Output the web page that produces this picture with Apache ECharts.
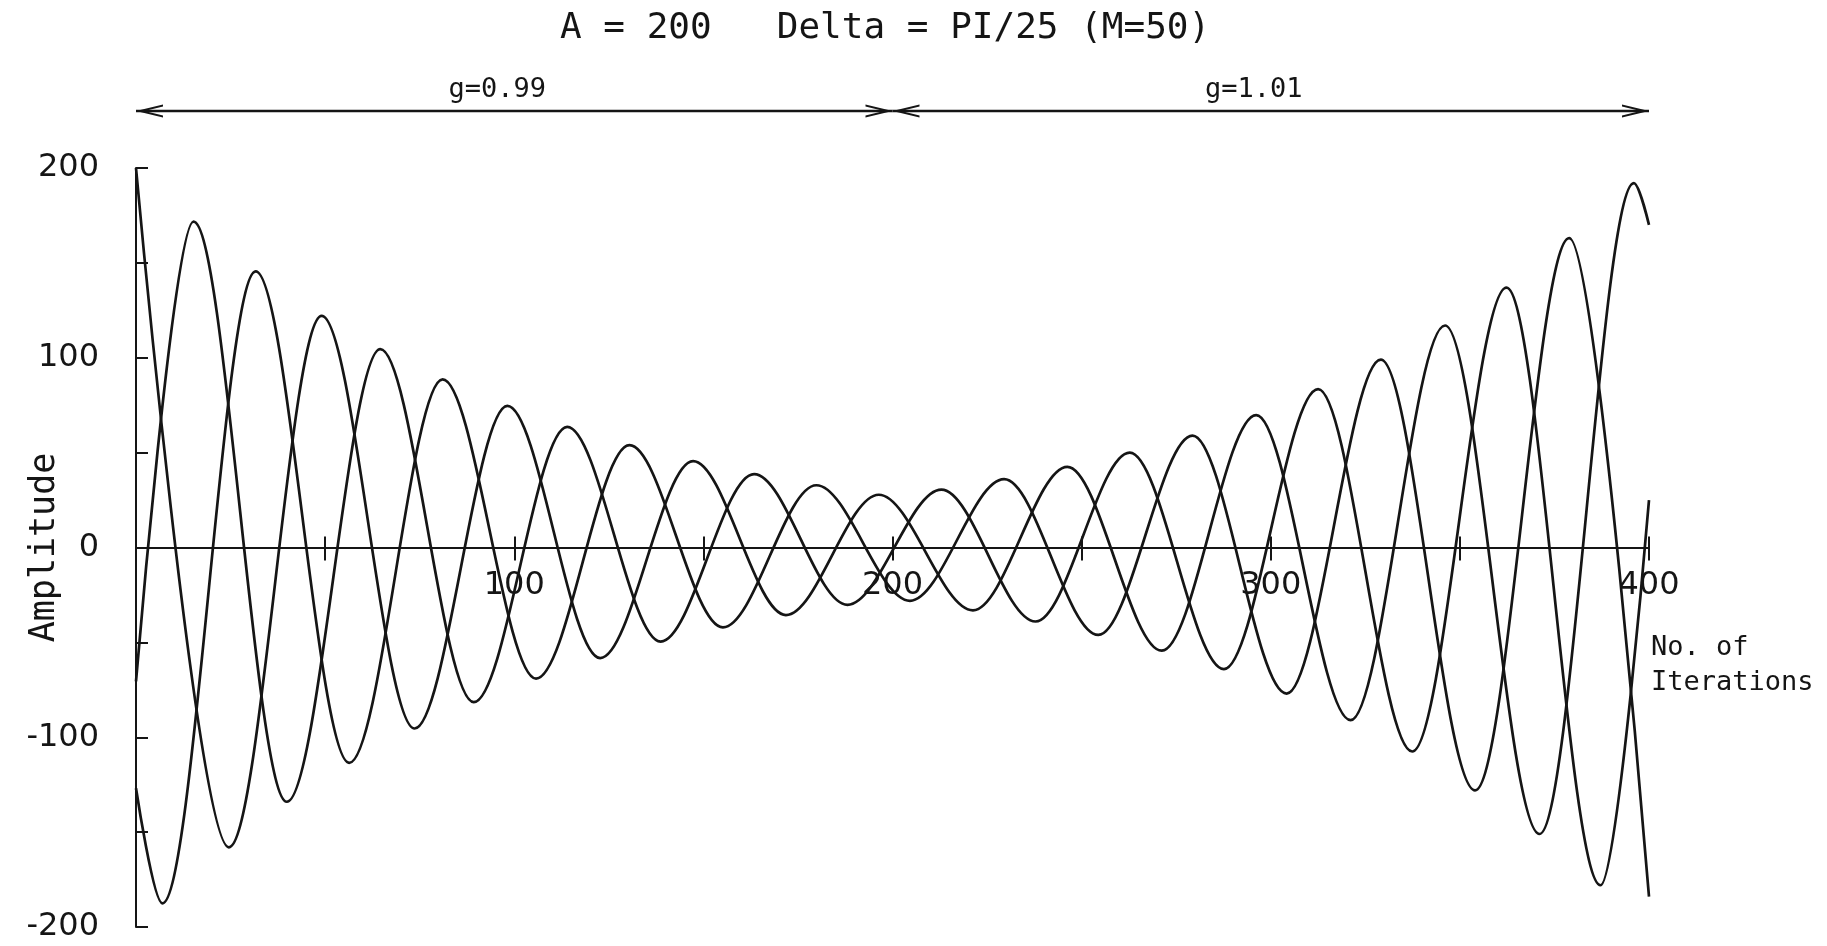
<!DOCTYPE html>
<html><head><meta charset="utf-8">
<script src="https://cdn.jsdelivr.net/npm/echarts/dist/echarts.min.js"></script>
<style>html,body{margin:0;padding:0;background:#fff}#c{width:1827px;height:946px}</style>
</head><body><div id="c"></div>
<script>
// ---- data ----
const titleText = 'A = 200   Delta = PI/25 (M=50)';
const xAxisName = 'No. of\nIterations';
const yAxisName = 'Amplitude';
const xRange = [0, 400];
const yRange = [-200, 200];
const tickStep = 50;
const labelStep = 100;
const arrowSpans = [[0, 200, 'g=0.99'], [200, 400, 'g=1.01']];

// turning points (peaks / troughs) of each curve, plus its two end points
const curveA = [
[0,200],[24.55,-158],[49.09,122.1],[73.64,-95.4],[98.18,74.6],[122.73,-58.3],[147.28,45.5],[171.82,-35.6],[196.37,27.8],
[221.27,-33.1],[246.23,42.5],[271.19,-54.4],[296.16,69.8],[321.12,-91],[346.08,117],[371.04,-151],[396.01,192],[400,170]
];
const curveB = [
[0,-70.5],[15.19,171.7],[39.89,-134.0],[64.59,104.5],[89.3,-81.5],[114,63.6],[138.7,-49.6],[163.41,38.7],[188.11,-30.2],
[212.92,30.5],[237.82,-39.0],[262.72,50.0],[287.62,-64.1],[312.52,83.5],[337.42,-107.5],[362.32,137],[387.22,-178],[400,25]
];
const curveC = [
[0,-126.9],[6.95,-187.5],[31.65,145.5],[56.36,-113.5],[81.06,88.6],[105.76,-69.1],[130.47,53.9],[155.17,-42.1],[179.87,32.8],
[204.61,-28.1],[229.51,36.0],[254.41,-46.1],[279.31,59.0],[304.21,-77],[329.11,99],[354.01,-128],[378.91,163],[400,-184]
];

// ---- styling ----
const INK = '#151515';
const MONO = 'DejaVu Sans Mono';
const SANS = 'DejaVu Sans';
const chevron = 'path://M5,0 L5,0 Z M0,40 L5,20 L10,40 L8.4,40 L5,26.4 L1.6,40 Z';
const W = 1827, H = 946;
const gridBox = {left: 136, right: 178, top: 168, bottom: 19};
const plotH = H - gridBox.top - gridBox.bottom;
const zeroFromBottom = plotH * (0 - yRange[0]) / (yRange[1] - yRange[0]);
const zeroFromTop = plotH - zeroFromBottom;

const chart = echarts.init(document.getElementById('c'), null, {renderer: 'canvas'});

function curveSeries(data) {
  return {
    type: 'line', xAxisIndex: 0, yAxisIndex: 0, data: data,
    smooth: 1 / 3, smoothMonotone: 'x', showSymbol: false, symbol: 'none', clip: false,
    lineStyle: {color: INK, width: 2.7}, silent: true, z: 3
  };
}

const option = {
  backgroundColor: '#ffffff',
  animation: false,
  title: {
    text: titleText, left: 555, top: 6,
    textStyle: {fontFamily: MONO, fontSize: 36, fontWeight: 'normal', color: INK}
  },
  grid: [
    Object.assign({containLabel: false, outerBoundsMode: 'none'}, gridBox),
    {left: gridBox.left, right: gridBox.right, top: 61, height: 100, containLabel: false, outerBoundsMode: 'none'}
  ],
  xAxis: [
    {
      type: 'value', gridIndex: 0, min: xRange[0], max: xRange[1], interval: tickStep,
      position: 'bottom', offset: -zeroFromBottom,
      axisLine: {show: true, onZero: false, lineStyle: {color: INK, width: 2}},
      axisTick: {show: true, inside: false, length: 13, lineStyle: {color: INK, width: 2}},
      axisLabel: {
        show: true, margin: 22, fontSize: 32, fontFamily: SANS, color: INK,
        formatter: v => (v > 0 && v % labelStep === 0) ? String(v) : ''
      },
      splitLine: {show: false},
      name: xAxisName, nameLocation: 'end', nameGap: 2, nameMoveOverlap: false,
      nameTextStyle: {fontFamily: MONO, fontSize: 27, color: INK, align: 'left', verticalAlign: 'top', lineHeight: 35, padding: [83, 0, 0, 0]}
    },
    {
      type: 'value', gridIndex: 0, min: xRange[0], max: xRange[1], interval: tickStep,
      position: 'top', offset: -zeroFromTop,
      axisLine: {show: true, onZero: false, lineStyle: {color: INK, width: 2}},
      axisTick: {show: true, inside: false, length: 11, lineStyle: {color: INK, width: 2}},
      axisLabel: {show: false},
      splitLine: {show: false}
    },
    {type: 'value', gridIndex: 1, min: xRange[0], max: xRange[1], show: false}
  ],
  yAxis: [
    {
      type: 'value', gridIndex: 0, min: yRange[0], max: yRange[1], interval: tickStep,
      axisLine: {show: true, onZero: false, lineStyle: {color: INK, width: 2}},
      axisTick: {show: true, inside: true, length: 12, lineStyle: {color: INK, width: 2}},
      axisLabel: {
        show: true, margin: 37, fontSize: 32, fontFamily: SANS, color: INK, padding: [5, 0, 0, 0],
        formatter: v => (v % labelStep === 0) ? String(v) : ''
      },
      splitLine: {show: false},
      name: yAxisName, nameLocation: 'middle', nameGap: 74, nameMoveOverlap: false,
      nameTextStyle: {fontFamily: MONO, fontSize: 35, color: INK}
    },
    {type: 'value', gridIndex: 1, min: 0, max: 1, show: false}
  ],
  series: [
    curveSeries(curveA),
    curveSeries(curveB),
    curveSeries(curveC),
    {
      type: 'line', xAxisIndex: 2, yAxisIndex: 1, data: [], silent: true,
      showSymbol: false, lineStyle: {opacity: 0},
      markLine: {
        silent: true, animation: false,
        symbol: [chevron, chevron], symbolSize: [13, 54],
        lineStyle: {color: INK, width: 2.4, type: 'solid'},
        itemStyle: {color: INK},
        label: {show: true, position: 'insideMiddleTop', distance: 8, offset: [-17, 0], formatter: '{b}', fontFamily: MONO, fontSize: 27, color: INK},
        emphasis: {disabled: true},
        data: arrowSpans.map(s => [{name: s[2], coord: [s[0], 0.5]}, {coord: [s[1], 0.5]}])
      }
    }
  ]
};
chart.setOption(option);
</script>
</body></html>
